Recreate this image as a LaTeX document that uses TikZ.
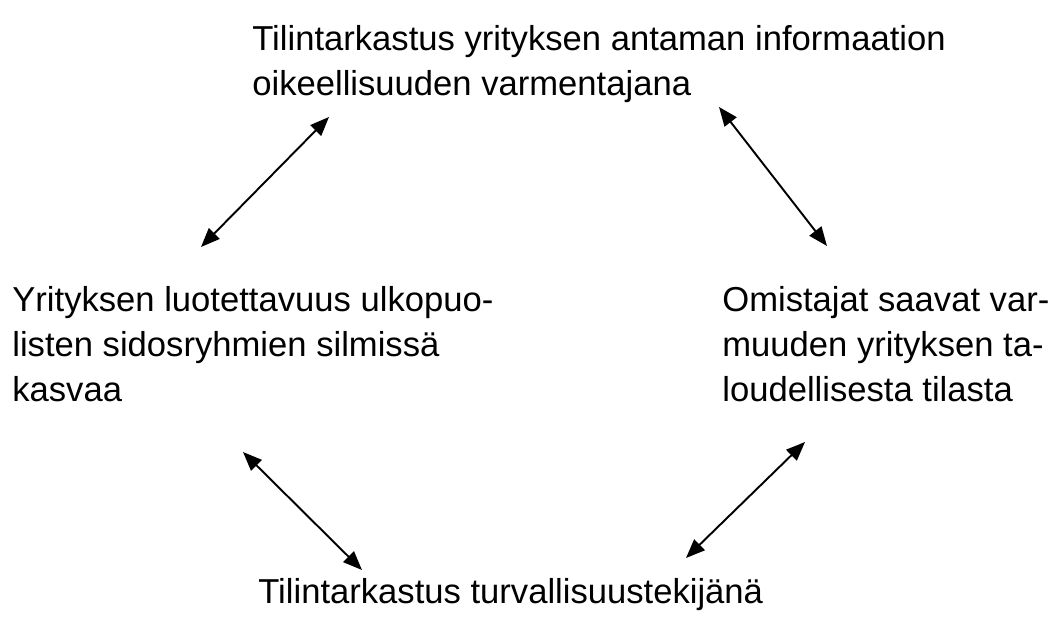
\documentclass[tikz,border=0pt]{standalone}
\usepackage{fontspec}
\setmainfont{Liberation Sans}
\usetikzlibrary{arrows.meta}

\begin{document}
\begin{tikzpicture}[
  every node/.style={font=\fontsize{19.7}{25.6}\selectfont},
  textbox/.style={anchor=north west,align=left,inner sep=0pt},
  linkarrow/.style={line width=1.1pt,{Triangle[length=0.38cm,width=0.3cm]}-{Triangle[length=0.38cm,width=0.3cm]}},
]
  \useasboundingbox (0,0) rectangle (21.06,12.52);

  % Texts
  \node[textbox] (audit) at (5.04,12.02)
    {Tilintarkastus yrityksen antaman informaation\\oikeellisuuden varmentajana};
  \node[textbox] (trust) at (0.24,6.80)
    {Yrityksen luotettavuus ulkopuo-\\listen sidosryhmien silmissä\\kasvaa};
  \node[textbox] (owners) at (14.44,6.80)
    {Omistajat saavat var-\\muuden yrityksen ta-\\loudellisesta tilasta};
  \node[textbox] (safety) at (5.16,0.96)
    {Tilintarkastus turvallisuustekijänä};

  % Arrow ends
  \coordinate (tl1) at (6.58,10.18);
  \coordinate (tl2) at (4.02,7.58);
  \coordinate (tr1) at (14.38,10.38);
  \coordinate (tr2) at (16.54,7.60);
  \coordinate (bl1) at (4.86,3.48);
  \coordinate (bl2) at (7.24,1.12);
  \coordinate (br1) at (16.10,3.68);
  \coordinate (br2) at (13.72,1.36);

  % Arrows
  \draw[linkarrow] (tl1) -- (tl2);
  \draw[linkarrow] (tr1) -- (tr2);
  \draw[linkarrow] (bl1) -- (bl2);
  \draw[linkarrow] (br1) -- (br2);
\end{tikzpicture}
\end{document}
